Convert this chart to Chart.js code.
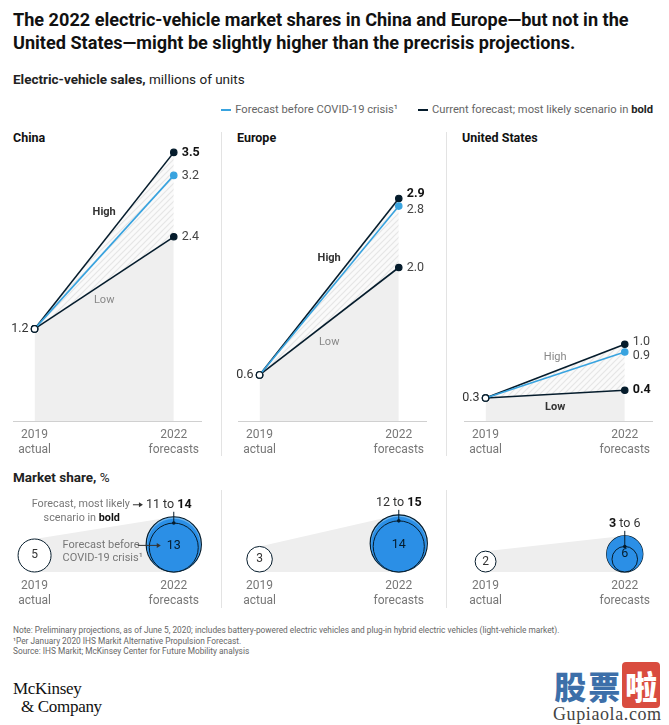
<!DOCTYPE html>
<html>
<head>
<meta charset="utf-8">
<script src="https://cdn.jsdelivr.net/npm/chart.js@4.4.0/dist/chart.umd.min.js"></script>
<style>
body { margin: 0; width: 669px; height: 725px; background: #fff; position: relative; overflow: hidden;
  font-family: Roboto, "Liberation Sans", sans-serif; color: #1a1a1a; }
.abs { position: absolute; white-space: nowrap; }
.title { left: 13px; top: 8px; font-size: 18.1px; font-weight: 700; line-height: 23px; color: #111; }
.sub { left: 13px; top: 71px; font-size: 13.5px; color: #222; }
.legend { right: 16px; top: 103px; font-size: 11.2px; color: #666; display: flex; align-items: center; }
.legend i { display: inline-block; width: 10px; height: 2px; margin: 0 4px 0 0; }
.ptitle { top: 130px; font-size: 12.5px; font-weight: 700; color: #111; }
.sep { width: 1px; background: #e3e3e3; }
.notes { left: 13px; top: 625px; font-size: 8.3px; line-height: 10.5px; color: #666; }
canvas { position: absolute; }
.logo { left: 13px; top: 680px; font-family: "Liberation Serif", "DejaVu Serif", serif; font-size: 17px; line-height: 18px; color: #111; letter-spacing: -0.3px; }
.wm { left: 553px; top: 667px; text-align: center; }
</style>
</head>
<body>
<div class="abs title">The 2022 electric-vehicle market shares in China and Europe—but not in the<br>United States—might be slightly higher than the precrisis projections.</div>
<div class="abs sub"><b>Electric-vehicle sales,</b> millions of units</div>
<div class="abs legend"><i style="background:#38a3df"></i>Forecast before COVID-19 crisis¹<span style="width:20px"></span><i style="background:#051c2c"></i>Current forecast; most likely scenario in&nbsp;<b style="color:#222">bold</b></div>

<div class="abs ptitle" style="left:13px">China</div>
<div class="abs ptitle" style="left:237px">Europe</div>
<div class="abs ptitle" style="left:462px">United States</div>
<div class="abs sep" style="left:221px;top:132px;height:324px"></div>
<div class="abs sep" style="left:446px;top:132px;height:324px"></div>

<div class="abs sub" style="top:469px"><b>Market share,</b> %</div>
<div class="abs sep" style="left:221px;top:490px;height:118px"></div>
<div class="abs sep" style="left:446px;top:490px;height:118px"></div>

<div class="abs notes">Note: Preliminary projections, as of June 5, 2020; includes battery-powered electric vehicles and plug-in hybrid electric vehicles (light-vehicle market).<br>¹Per January 2020 IHS Markit Alternative Propulsion Forecast.<br>Source: IHS Markit; McKinsey Center for Future Mobility analysis</div>

<div class="abs logo">McKinsey<br>&nbsp;&nbsp;&amp; Company</div>
<div class="abs wm">
  <div style="font-family:'Noto Sans CJK SC';font-size:32px;font-weight:900;line-height:37px;"><span style="color:#3d6fa9;letter-spacing:2px">股票</span><span style="color:#fff;background:#d94c3f;padding:0 3px;border-radius:4px">啦</span></div>
  <div style="font-family:'Liberation Serif',serif;font-size:18px;color:#444;letter-spacing:0.6px">Gupiaola.com</div>
</div>

<script>
var regions = ['China', 'Europe', 'United States']
var years = [2019, 2022]
var tickLabels = [['2019', 'actual'], ['2022', 'forecasts']]

// electric-vehicle sales, millions of units
var sales2019 = [1.2, 0.6, 0.3]
var salesLow = [2.4, 2.0, 0.4]
var salesHigh = [3.5, 2.9, 1.0]
var salesPrecrisis = [3.2, 2.8, 0.9]
var likelyScenario = ['High', 'High', 'Low']

// market share, %
var share2019 = [5, 3, 2]
var shareLow = [11, 12, 3]
var shareHigh = [14, 15, 6]
var sharePrecrisis = [13, 14, 6]

var NAVY = '#051c2c'
var BLUE = '#38a3df'
var BUBBLE_BLUE = '#2b8fe6'
var FONT = 'Roboto, "Liberation Sans", sans-serif'

var panelLeft = [13, 238, 464]
var PAD = 10            // room left of the axis for the 2019 value label
var areaW = 192
// 2019 sits 22px into a panel, 2022 at 164px
var ppy = (164 - 22) / 3
var xMin = 2019 - 22 / ppy
var xMax = xMin + areaW / ppy
var AXIS_H = 38

function txt(ctx, s, x, y, size, weight, color, align) {
    ctx.font = weight + ' ' + size + 'px ' + FONT
    ctx.fillStyle = color
    ctx.textAlign = align || 'left'
    ctx.textBaseline = 'middle'
    ctx.fillText(s, x, y)
}

// parts: [[text, weight], ...]
function runs(ctx, parts, x, y, size, color, align) {
    var w = 0
    parts.forEach(function (p) { ctx.font = p[1] + ' ' + size + 'px ' + FONT; w += ctx.measureText(p[0]).width })
    var cx = align === 'center' ? x - w / 2 : (align === 'right' ? x - w : x)
    parts.forEach(function (p) {
        txt(ctx, p[0], cx, y, size, p[1], p[1] === 700 ? '#111' : color)
        ctx.font = p[1] + ' ' + size + 'px ' + FONT
        cx += ctx.measureText(p[0]).width
    })
    return w
}

function arrow(ctx, x1, x2, y) {
    ctx.save()
    ctx.strokeStyle = '#333'; ctx.fillStyle = '#333'; ctx.lineWidth = 1
    ctx.beginPath(); ctx.moveTo(x1, y); ctx.lineTo(x2 - 3, y); ctx.stroke()
    ctx.beginPath(); ctx.moveTo(x2, y); ctx.lineTo(x2 - 4, y - 2.5); ctx.lineTo(x2 - 4, y + 2.5); ctx.closePath(); ctx.fill()
    ctx.restore()
}

function hatchPattern() {
    var c = document.createElement('canvas')
    c.width = 6; c.height = 6
    var g = c.getContext('2d')
    g.fillStyle = '#fafafa'; g.fillRect(0, 0, 6, 6)
    g.strokeStyle = '#e6e6e6'; g.lineWidth = 1.2
    g.beginPath()
    g.moveTo(0, 6); g.lineTo(6, 0)
    g.moveTo(-1, 1); g.lineTo(1, -1)
    g.moveTo(5, 7); g.lineTo(7, 5)
    g.stroke()
    return g.createPattern(c, 'repeat')
}

function xAxis(showBorder) {
    return {
        type: 'linear', min: xMin, max: xMax,
        afterBuildTicks: function (axis) { axis.ticks = years.map(function (v) { return { value: v } }) },
        afterFit: function (axis) { axis.height = AXIS_H },
        grid: { display: false, drawTicks: false },
        border: { display: showBorder, color: '#d0d0d0', width: 1 },
        ticks: {
            padding: 6, color: '#777', font: { family: FONT, size: 12, lineHeight: 1.25 },
            maxRotation: 0, autoSkip: false,
            callback: function (v) { return tickLabels[years.indexOf(v)] }
        }
    }
}

var salesLabels = {
    id: 'salesLabels',
    afterDatasetsDraw: function (chart, args, opts) {
        var ctx = chart.ctx
        var i = opts.panel
        var p0 = chart.getDatasetMeta(0).data[0]
        txt(ctx, sales2019[i].toFixed(1), p0.x - 6, p0.y, 12.5, 400, '#333', 'right')
        chart.data.datasets.forEach(function (ds, d) {
            var p = chart.getDatasetMeta(d).data[1]
            var bold = ds.label === likelyScenario[i]
            txt(ctx, ds.data[1].y.toFixed(1), p.x + 8, p.y + opts.dy[d], 12.5, bold ? 700 : 400, bold ? '#111' : '#444')
            if (ds.label === 'High' || ds.label === 'Low') {
                var m = chart.getDatasetMeta(d).data
                var mx = (m[0].x + m[1].x) / 2
                var my = (m[0].y + m[1].y) / 2 + opts.nameDy[ds.label]
                txt(ctx, ds.label, mx, my, 11, bold ? 700 : 400, bold ? '#333' : '#888', 'center')
            }
        })
    }
}

var shareLabels = {
    id: 'shareLabels',
    afterDatasetsDraw: function (chart, args, opts) {
        var ctx = chart.ctx
        var i = opts.panel
        var ys = chart.scales.y
        var c19 = chart.getDatasetMeta(1).data[0]
        txt(ctx, String(share2019[i]), c19.x, c19.y, 12, 400, '#333', 'center')
        var pre = chart.getDatasetMeta(3).data[0]
        txt(ctx, String(sharePrecrisis[i]), pre.x, pre.y, 12.5, 400, NAVY, 'center')

        var hiTop = ys.getPixelForValue(2 * rad(shareHigh[i]))
        var loTop = ys.getPixelForValue(2 * rad(shareLow[i]))
        var ly = hiTop - 12
        var highBold = likelyScenario[i] === 'High'
        var lx = pre.x + opts.rangeDx
        var w = runs(ctx, [[String(shareLow[i]), highBold ? 400 : 700], [' to ', 400], [String(shareHigh[i]), highBold ? 700 : 400]], lx, ly, 12.5, '#333', 'center')
        ctx.save()
        ctx.strokeStyle = NAVY; ctx.fillStyle = NAVY; ctx.lineWidth = 1
        ctx.beginPath(); ctx.moveTo(pre.x, ly + 7); ctx.lineTo(pre.x, loTop); ctx.stroke()
        ctx.beginPath(); ctx.arc(pre.x, loTop, 1.8, 0, Math.PI * 2); ctx.fill()
        ctx.restore()

        if (opts.notes) {
            var start = lx - w / 2
            txt(ctx, 'Forecast, most likely', start - 16, ly, 10.8, 400, '#777', 'right')
            arrow(ctx, start - 13, start - 3, ly)
            runs(ctx, [['scenario in ', 400], ['bold', 700]], c19.x + 9, ly + 14, 10.8, '#777')
            txt(ctx, 'Forecast before', c19.x + 28, pre.y, 11, 400, '#777')
            txt(ctx, 'COVID-19 crisis¹', c19.x + 28, pre.y + 13, 11, 400, '#777')
            arrow(ctx, pre.x - 36, pre.x - 13, pre.y)
        }
    }
}

// circle area proportional to share
function rad(v) { return 7.38 * Math.sqrt(v) }

function addCanvas(left, top, w, h) {
    var cv = document.createElement('canvas')
    cv.width = w; cv.height = h
    cv.style.left = left + 'px'; cv.style.top = top + 'px'
    document.body.appendChild(cv)
    return cv
}

var pointStyle = function (color) {
    return {
        pointRadius: 3.2,
        pointBorderWidth: 1.2,
        pointBackgroundColor: function (c) { return c.dataIndex === 0 ? '#fff' : color },
        pointBorderColor: function (c) { return c.dataIndex === 0 ? NAVY : color }
    }
}

var labelDy = [[0, 0, 0], [0, -5, 4], [0, -2, 4]]
var nameDy = [{ High: -28, Low: 17 }, { High: -28, Low: 21 }, { High: -14, Low: 13 }]

regions.forEach(function (region, i) {
    var hatch = hatchPattern()
    var cv = addCanvas(panelLeft[i] - PAD, 114, areaW + PAD, 345)
    new Chart(cv, {
        type: 'line',
        data: {
            datasets: [
                Object.assign({ label: 'Low', data: [{ x: 2019, y: sales2019[i] }, { x: 2022, y: salesLow[i] }],
                    borderColor: NAVY, borderWidth: 1.6, fill: 'origin', backgroundColor: '#efefef', order: 3, clip: false }, pointStyle(NAVY)),
                Object.assign({ label: 'High', data: [{ x: 2019, y: sales2019[i] }, { x: 2022, y: salesHigh[i] }],
                    borderColor: NAVY, borderWidth: 1.6, fill: '-1', backgroundColor: hatch, order: 2, clip: false }, pointStyle(NAVY)),
                Object.assign({ label: 'Precrisis', data: [{ x: 2019, y: sales2019[i] }, { x: 2022, y: salesPrecrisis[i] }],
                    borderColor: BLUE, borderWidth: 1.6, fill: false, order: 1, clip: false }, pointStyle(BLUE))
            ]
        },
        options: {
            responsive: false, animation: false,
            layout: { padding: { left: PAD, right: 0, top: 0, bottom: 0 }, autoPadding: false },
            plugins: {
                legend: { display: false }, tooltip: { enabled: false },
                filler: { drawTime: 'beforeDatasetsDraw' },
                salesLabels: { panel: i, dy: labelDy[i], nameDy: nameDy[i] }
            },
            scales: {
                x: xAxis(true),
                y: { display: false, min: 0, max: 4 }
            }
        },
        plugins: [salesLabels]
    })

    var bh = 120
    var bc = addCanvas(panelLeft[i] - PAD, 490, areaW + PAD, bh)
    new Chart(bc, {
        type: 'bubble',
        data: {
            datasets: [
                { type: 'line', data: [{ x: 2019, y: 2 * rad(share2019[i]) }, { x: 2022, y: 2 * rad(shareHigh[i]) }],
                    fill: 'origin', backgroundColor: '#eeeeee', borderWidth: 0, pointRadius: 0, order: 10, clip: false },
                { data: [{ x: 2019, y: rad(share2019[i]), r: rad(share2019[i]) }],
                    backgroundColor: '#fff', borderColor: NAVY, borderWidth: 1, order: 1, clip: false },
                { data: [{ x: 2022, y: rad(shareHigh[i]), r: rad(shareHigh[i]) }],
                    backgroundColor: '#6cb5f0', borderColor: NAVY, borderWidth: 1.2, order: 5, clip: false },
                { data: [{ x: 2022, y: rad(sharePrecrisis[i]), r: rad(sharePrecrisis[i]) }],
                    backgroundColor: BUBBLE_BLUE, borderWidth: 0, order: 4, clip: false },
                { data: [{ x: 2022, y: rad(shareLow[i]), r: rad(shareLow[i]) }],
                    backgroundColor: 'rgba(0,0,0,0)', borderColor: NAVY, borderWidth: 1, order: 3, clip: false }
            ]
        },
        options: {
            responsive: false, animation: false,
            layout: { padding: { left: PAD, right: 0, top: 0, bottom: 0 }, autoPadding: false },
            plugins: {
                legend: { display: false }, tooltip: { enabled: false },
                shareLabels: { panel: i, notes: i === 0, rangeDx: i === 0 ? -5 : 0 }
            },
            scales: {
                x: xAxis(false),
                // one unit per pixel so circles rest on the baseline
                y: { display: false, min: 0, max: bh - AXIS_H }
            }
        },
        plugins: [shareLabels]
    })
})
</script>
</body>
</html>
